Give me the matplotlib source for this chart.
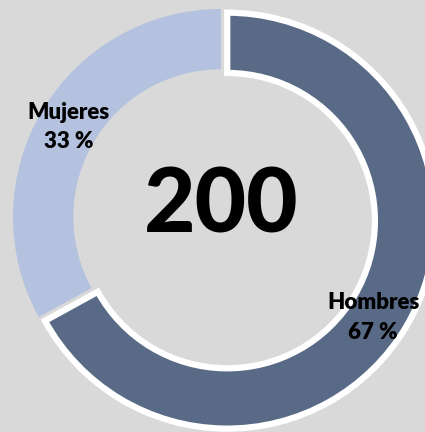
import numpy as np
import matplotlib.pyplot as plt

# datos
categorias = ["Hombres", "Mujeres"]
porcentajes = [67, 33]
total = 200
colores = ["#596a86", "#b4c2df"]

fig = plt.figure(figsize=(4.25, 4.32), dpi=100)
fig.patch.set_facecolor("#d9d9d9")
ax = fig.add_axes([0, 0, 1, 1])
ax.set_facecolor("#d9d9d9")

wedges, _ = ax.pie(porcentajes, colors=colores, startangle=90, counterclock=False,
                   explode=[0.035, 0], radius=1.0,
                   wedgeprops=dict(width=0.29, linewidth=0))
# solo la porcion de hombres lleva borde blanco
wedges[0].set_edgecolor("white")
wedges[0].set_linewidth(4.5)

# etiquetas en el centro del anillo
for w, cat, p in zip(wedges, categorias, porcentajes):
    ang = np.deg2rad((w.theta1 + w.theta2) / 2)
    x, y = 0.85 * np.cos(ang), 0.85 * np.sin(ang)
    if cat == "Hombres":
        x, y = x + 0.0, y - 0.05
    ax.text(x, y, f"{cat}\n{p} %", ha="center", va="center", fontsize=16,
            fontweight="heavy", family="Lato", linespacing=1.5)

ax.text(0, 0.05, str(total), ha="center", va="center", fontsize=64,
        fontweight="black", family="Lato")

ax.set_xlim(-1.0625, 0.981)
ax.set_ylim(-1.034, 1.043)
ax.set_aspect("equal")
ax.axis("off")

fig.savefig("out.png", dpi=100, facecolor=fig.get_facecolor())
